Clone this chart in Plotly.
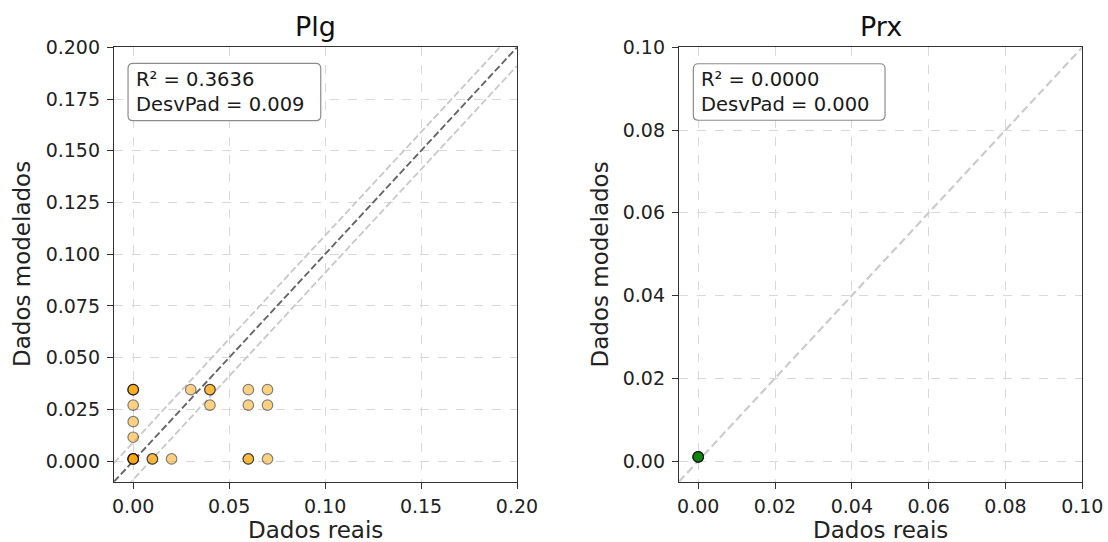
import plotly.graph_objects as go

# --- data -------------------------------------------------------------
PLG_REAL = [0.00, 0.00, 0.00, 0.00, 0.00, 0.00, 0.00, 0.00, 0.00, 0.00,
            0.01, 0.01, 0.02, 0.03, 0.04, 0.04, 0.04, 0.06, 0.07, 0.06,
            0.07, 0.06, 0.06, 0.07]
PLG_MOD = [0.0345, 0.0345, 0.0345, 0.027, 0.019, 0.0115, 0.001, 0.001, 0.001, 0.001,
           0.001, 0.001, 0.001, 0.0345, 0.0345, 0.0345, 0.027, 0.0345, 0.0345, 0.027,
           0.027, 0.001, 0.001, 0.001]
PRX_REAL = [0.0, 0.0, 0.0, 0.0]
PRX_MOD = [0.001, 0.001, 0.001, 0.001]

PLG_R2, PLG_STD = 0.3636, 0.009
PRX_R2, PRX_STD = 0.0000, 0.000

PLG_RANGE = [-0.01, 0.20]
PRX_RANGE = [-0.005, 0.10]

FONT = "DejaVu Sans"
W, H = 1108, 542


def px_x(p):
    return p / W


def px_y(p):
    return 1 - p / H


fig = go.Figure()

# --- Plg panel ----------------------------------------------------------
lo, hi = PLG_RANGE
for off in (PLG_STD, -PLG_STD):
    fig.add_trace(go.Scatter(x=[lo, hi], y=[lo + off, hi + off], mode="lines",
                             line=dict(color="#c8c8c8", width=1.8, dash="7px,3px"),
                             xaxis="x", yaxis="y", hoverinfo="skip"))
fig.add_trace(go.Scatter(x=[lo, hi], y=[lo, hi], mode="lines",
                         line=dict(color="#666666", width=1.9, dash="7px,3px"),
                         xaxis="x", yaxis="y", hoverinfo="skip"))
fig.add_trace(go.Scatter(x=PLG_REAL, y=PLG_MOD, mode="markers",
                         marker=dict(size=10.5, color="orange", opacity=0.5,
                                     line=dict(color="black", width=1.2)),
                         xaxis="x", yaxis="y"))

# --- Prx panel ----------------------------------------------------------
lo, hi = PRX_RANGE
fig.add_trace(go.Scatter(x=[lo, hi], y=[lo, hi], mode="lines",
                         line=dict(color="#cccccc", width=2.2, dash="8px,4px"),
                         xaxis="x2", yaxis="y2", hoverinfo="skip"))
fig.add_trace(go.Scatter(x=PRX_REAL, y=PRX_MOD, mode="markers",
                         marker=dict(size=10.5, color="green", opacity=0.5,
                                     line=dict(color="black", width=1.2)),
                         xaxis="x2", yaxis="y2"))

# --- axes -----------------------------------------------------------------
ydom = [px_y(481.7), px_y(47.3)]
axis_common = dict(
    showline=True, mirror=True, linecolor="#333333", linewidth=1.3,
    ticks="outside", ticklen=6, tickwidth=1.2, tickcolor="#333333",
    showgrid=True, gridcolor="#d9d9d9", gridwidth=1, griddash="dash",
    zeroline=False, tickfont=dict(family=FONT, size=19, color="#222222"),
    automargin=False,
)
fig.update_layout(
    xaxis=dict(domain=[px_x(114), px_x(517)], range=PLG_RANGE, dtick=0.05,
               tick0=0, tickformat=".2f", anchor="y", ticklabelstandoff=1,
               **axis_common),
    yaxis=dict(domain=ydom, range=PLG_RANGE, dtick=0.025, tick0=0,
               tickformat=".3f", anchor="x", ticklabelstandoff=3, **axis_common),
    xaxis2=dict(domain=[px_x(679), px_x(1082.3)], range=PRX_RANGE, dtick=0.02,
                tick0=0, tickformat=".2f", anchor="y2", ticklabelstandoff=1,
                **axis_common),
    yaxis2=dict(domain=ydom, range=PRX_RANGE, dtick=0.02, tick0=0,
                tickformat=".2f", anchor="x2", ticklabelstandoff=3, **axis_common),
)


# --- stats boxes (rounded, opaque) ----------------------------------------
def rounded_box(cx, cy, w, h, r=5):
    a, b = w / 2, h / 2
    path = (f"M {-a + r},{-b} L {a - r},{-b} Q {a},{-b} {a},{-b + r} "
            f"L {a},{b - r} Q {a},{b} {a - r},{b} L {-a + r},{b} "
            f"Q {-a},{b} {-a},{b - r} L {-a},{-b + r} Q {-a},{-b} {-a + r},{-b} Z")
    return dict(type="path", path=path, xref="paper", yref="paper",
                xsizemode="pixel", ysizemode="pixel",
                xanchor=px_x(cx), yanchor=px_y(cy),
                fillcolor="white", line=dict(color="#8c8c8c", width=1.2),
                layer="above")


fig.add_shape(rounded_box(224.4, 92, 192.7, 57.4))
fig.add_shape(rounded_box(789.2, 92, 191.7, 56.5))

stat_font = dict(family=FONT, size=19.5, color="#1a1a1a")
fig.add_annotation(x=px_x(133.5), y=px_y(91.5), xref="paper", yref="paper",
                   xanchor="left", yanchor="middle", align="left", showarrow=False,
                   text=f"R² = {PLG_R2:.4f}<br>DesvPad = {PLG_STD:.3f}", font=stat_font)
fig.add_annotation(x=px_x(699), y=px_y(91.5), xref="paper", yref="paper",
                   xanchor="left", yanchor="middle", align="left", showarrow=False,
                   text=f"R² = {PRX_R2:.4f}<br>DesvPad = {PRX_STD:.3f}", font=stat_font)

# --- titles and axis labels -------------------------------------------------
title_font = dict(family=FONT, size=27, color="#111111")
label_font = dict(family=FONT, size=23, color="#222222")
fig.add_annotation(x=px_x(315.5), y=px_y(26), xref="paper", yref="paper",
                   text="Plg", showarrow=False, font=title_font,
                   xanchor="center", yanchor="middle")
fig.add_annotation(x=px_x(880.5), y=px_y(26), xref="paper", yref="paper",
                   text="Prx", showarrow=False, font=title_font,
                   xanchor="center", yanchor="middle")
for cx in (315.5, 880.5):
    fig.add_annotation(x=px_x(cx), y=px_y(529.5), xref="paper", yref="paper",
                       text="Dados reais", showarrow=False, font=label_font,
                       xanchor="center", yanchor="middle")
for cx in (21.5, 599):
    fig.add_annotation(x=px_x(cx), y=px_y(264.5), xref="paper", yref="paper",
                       text="Dados modelados", showarrow=False, font=label_font,
                       textangle=-90, xanchor="center", yanchor="middle")

fig.update_layout(
    width=W, height=H, margin=dict(l=0, r=0, t=0, b=0, autoexpand=False),
    paper_bgcolor="white", plot_bgcolor="white", showlegend=False,
    font=dict(family=FONT),
)

fig.write_html("out.html")
